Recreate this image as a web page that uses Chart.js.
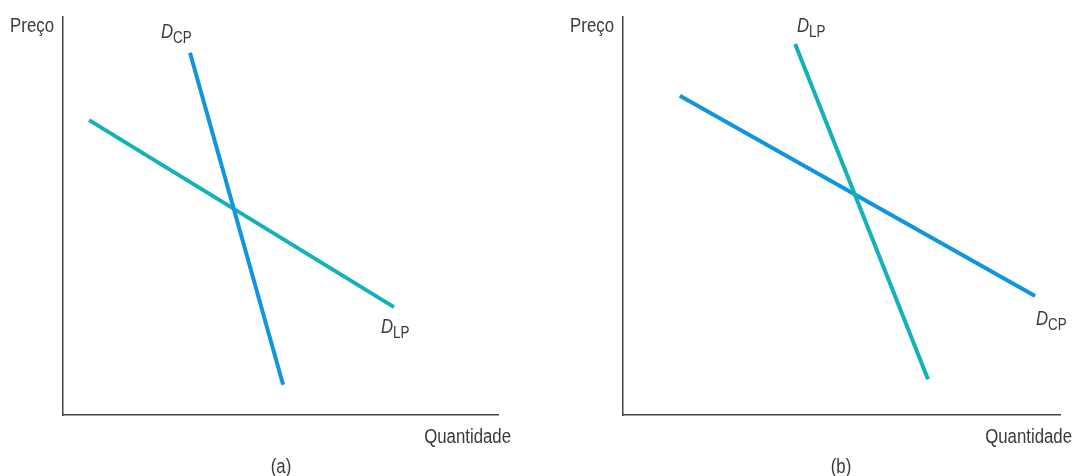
<!DOCTYPE html>
<html>
<head>
<meta charset="utf-8">
<script src="https://cdn.jsdelivr.net/npm/chart.js@4.4.0/dist/chart.umd.min.js"></script>
<style>
  body { margin: 0; background: #fff; width: 1075px; height: 476px; position: relative; overflow: hidden; }
  canvas { position: absolute; top: 0; }
  #grafA { left: 0; }
  #grafB { left: 560px; }
</style>
</head>
<body>
<canvas id="grafA" width="540" height="476"></canvas>
<canvas id="grafB" width="515" height="476"></canvas>
<script>
// eixos 0..100 nos dois paineis
const eixoY = 'Preço';
const eixoX = 'Quantidade';
const paineis = ['(a)', '(b)'];

// painel (a)
const a_dcp = [{x: 29.2, y: 91.0}, {x: 50.6, y: 7.6}];
const a_dlp = [{x: 6.0, y: 74.1}, {x: 76.1, y: 27.1}];
// painel (b)
const b_dlp = [{x: 39.4, y: 93.2}, {x: 69.8, y: 9.0}];
const b_dcp = [{x: 13.0, y: 80.2}, {x: 94.3, y: 29.9}];

// rotulos das curvas: [D, subscrito, x, y]
const a_rotulos = [['D', 'CP', 22.5, 94.7], ['D', 'LP', 73.1, 20.6]];
const b_rotulos = [['D', 'LP', 39.8, 96.2], ['D', 'CP', 94.5, 22.6]];

const azul = '#0f96dc';
const verde = '#12b2b8';
const fonte = '"Liberation Sans", Arial, sans-serif';
const estreito = 0.84; // fonte condensada

// escreve texto "apertado" na horizontal, devolve a largura
function escreve(ctx, txt, x, y, align, font){
    ctx.save();
    ctx.font = font;
    const w = ctx.measureText(txt).width * estreito;
    let x0 = x;
    if (align === 'right') x0 = x - w;
    if (align === 'center') x0 = x - w / 2;
    ctx.translate(x0, y);
    ctx.scale(estreito, 1);
    ctx.textAlign = 'left';
    ctx.fillText(txt, 0, 0);
    ctx.restore();
    return w;
}

const textos = {
    id: 'textos',
    afterDraw(chart, args, opts) {
        const ctx = chart.ctx;
        const area = chart.chartArea;
        const sx = chart.scales.x, sy = chart.scales.y;
        ctx.save();
        ctx.fillStyle = '#3a3a3a';
        ctx.textBaseline = 'alphabetic';
        escreve(ctx, eixoY, area.left - 9, area.top + 15, 'right', '20px ' + fonte);
        escreve(ctx, eixoX, area.right + opts.qdx, area.bottom + 28, 'right', '20px ' + fonte);
        escreve(ctx, opts.painel, area.left + 218, area.bottom + 58, 'center', '20px ' + fonte);
        opts.rotulos.forEach(function(r) {
            const px = sx.getPixelForValue(r[2]);
            const py = sy.getPixelForValue(r[3]);
            const w = escreve(ctx, r[0], px, py, 'left', 'italic 20px ' + fonte);
            escreve(ctx, r[1], px + w, py + 5, 'left', '16px ' + fonte);
        });
        ctx.restore();
    }
};

function cria_grafico(canva_id, ds1, cor1, ds2, cor2, rotulos, painel, padRight, qdx){
    const ctx = document.getElementById(canva_id).getContext('2d');
    return new Chart(ctx, {
        type: 'scatter',
        data: {
            datasets: [
                { data: ds1, showLine: true, borderColor: cor1, borderWidth: 4, pointRadius: 0, borderCapStyle: 'butt' },
                { data: ds2, showLine: true, borderColor: cor2, borderWidth: 4, pointRadius: 0, borderCapStyle: 'butt' }
            ]
        },
        options: {
            responsive: false,
            animation: false,
            layout: { padding: { left: 63, right: padRight, top: 17, bottom: 61 } },
            plugins: {
                legend: { display: false },
                tooltip: { enabled: false },
                textos: { rotulos: rotulos, painel: painel, qdx: qdx }
            },
            scales: {
                x: {
                    min: 0, max: 100,
                    ticks: { display: false },
                    grid: { display: false, drawTicks: false },
                    border: { display: true, color: '#444', width: 1.5 }
                },
                y: {
                    min: 0, max: 100,
                    ticks: { display: false },
                    grid: { display: false, drawTicks: false },
                    border: { display: true, color: '#444', width: 1.5 }
                }
            }
        },
        plugins: [textos]
    });
}

cria_grafico('grafA', a_dcp, azul, a_dlp, verde, a_rotulos, paineis[0], 42, 13);
cria_grafico('grafB', b_dlp, verde, b_dcp, azul, b_rotulos, paineis[1], 15, 12);
</script>
</body>
</html>
